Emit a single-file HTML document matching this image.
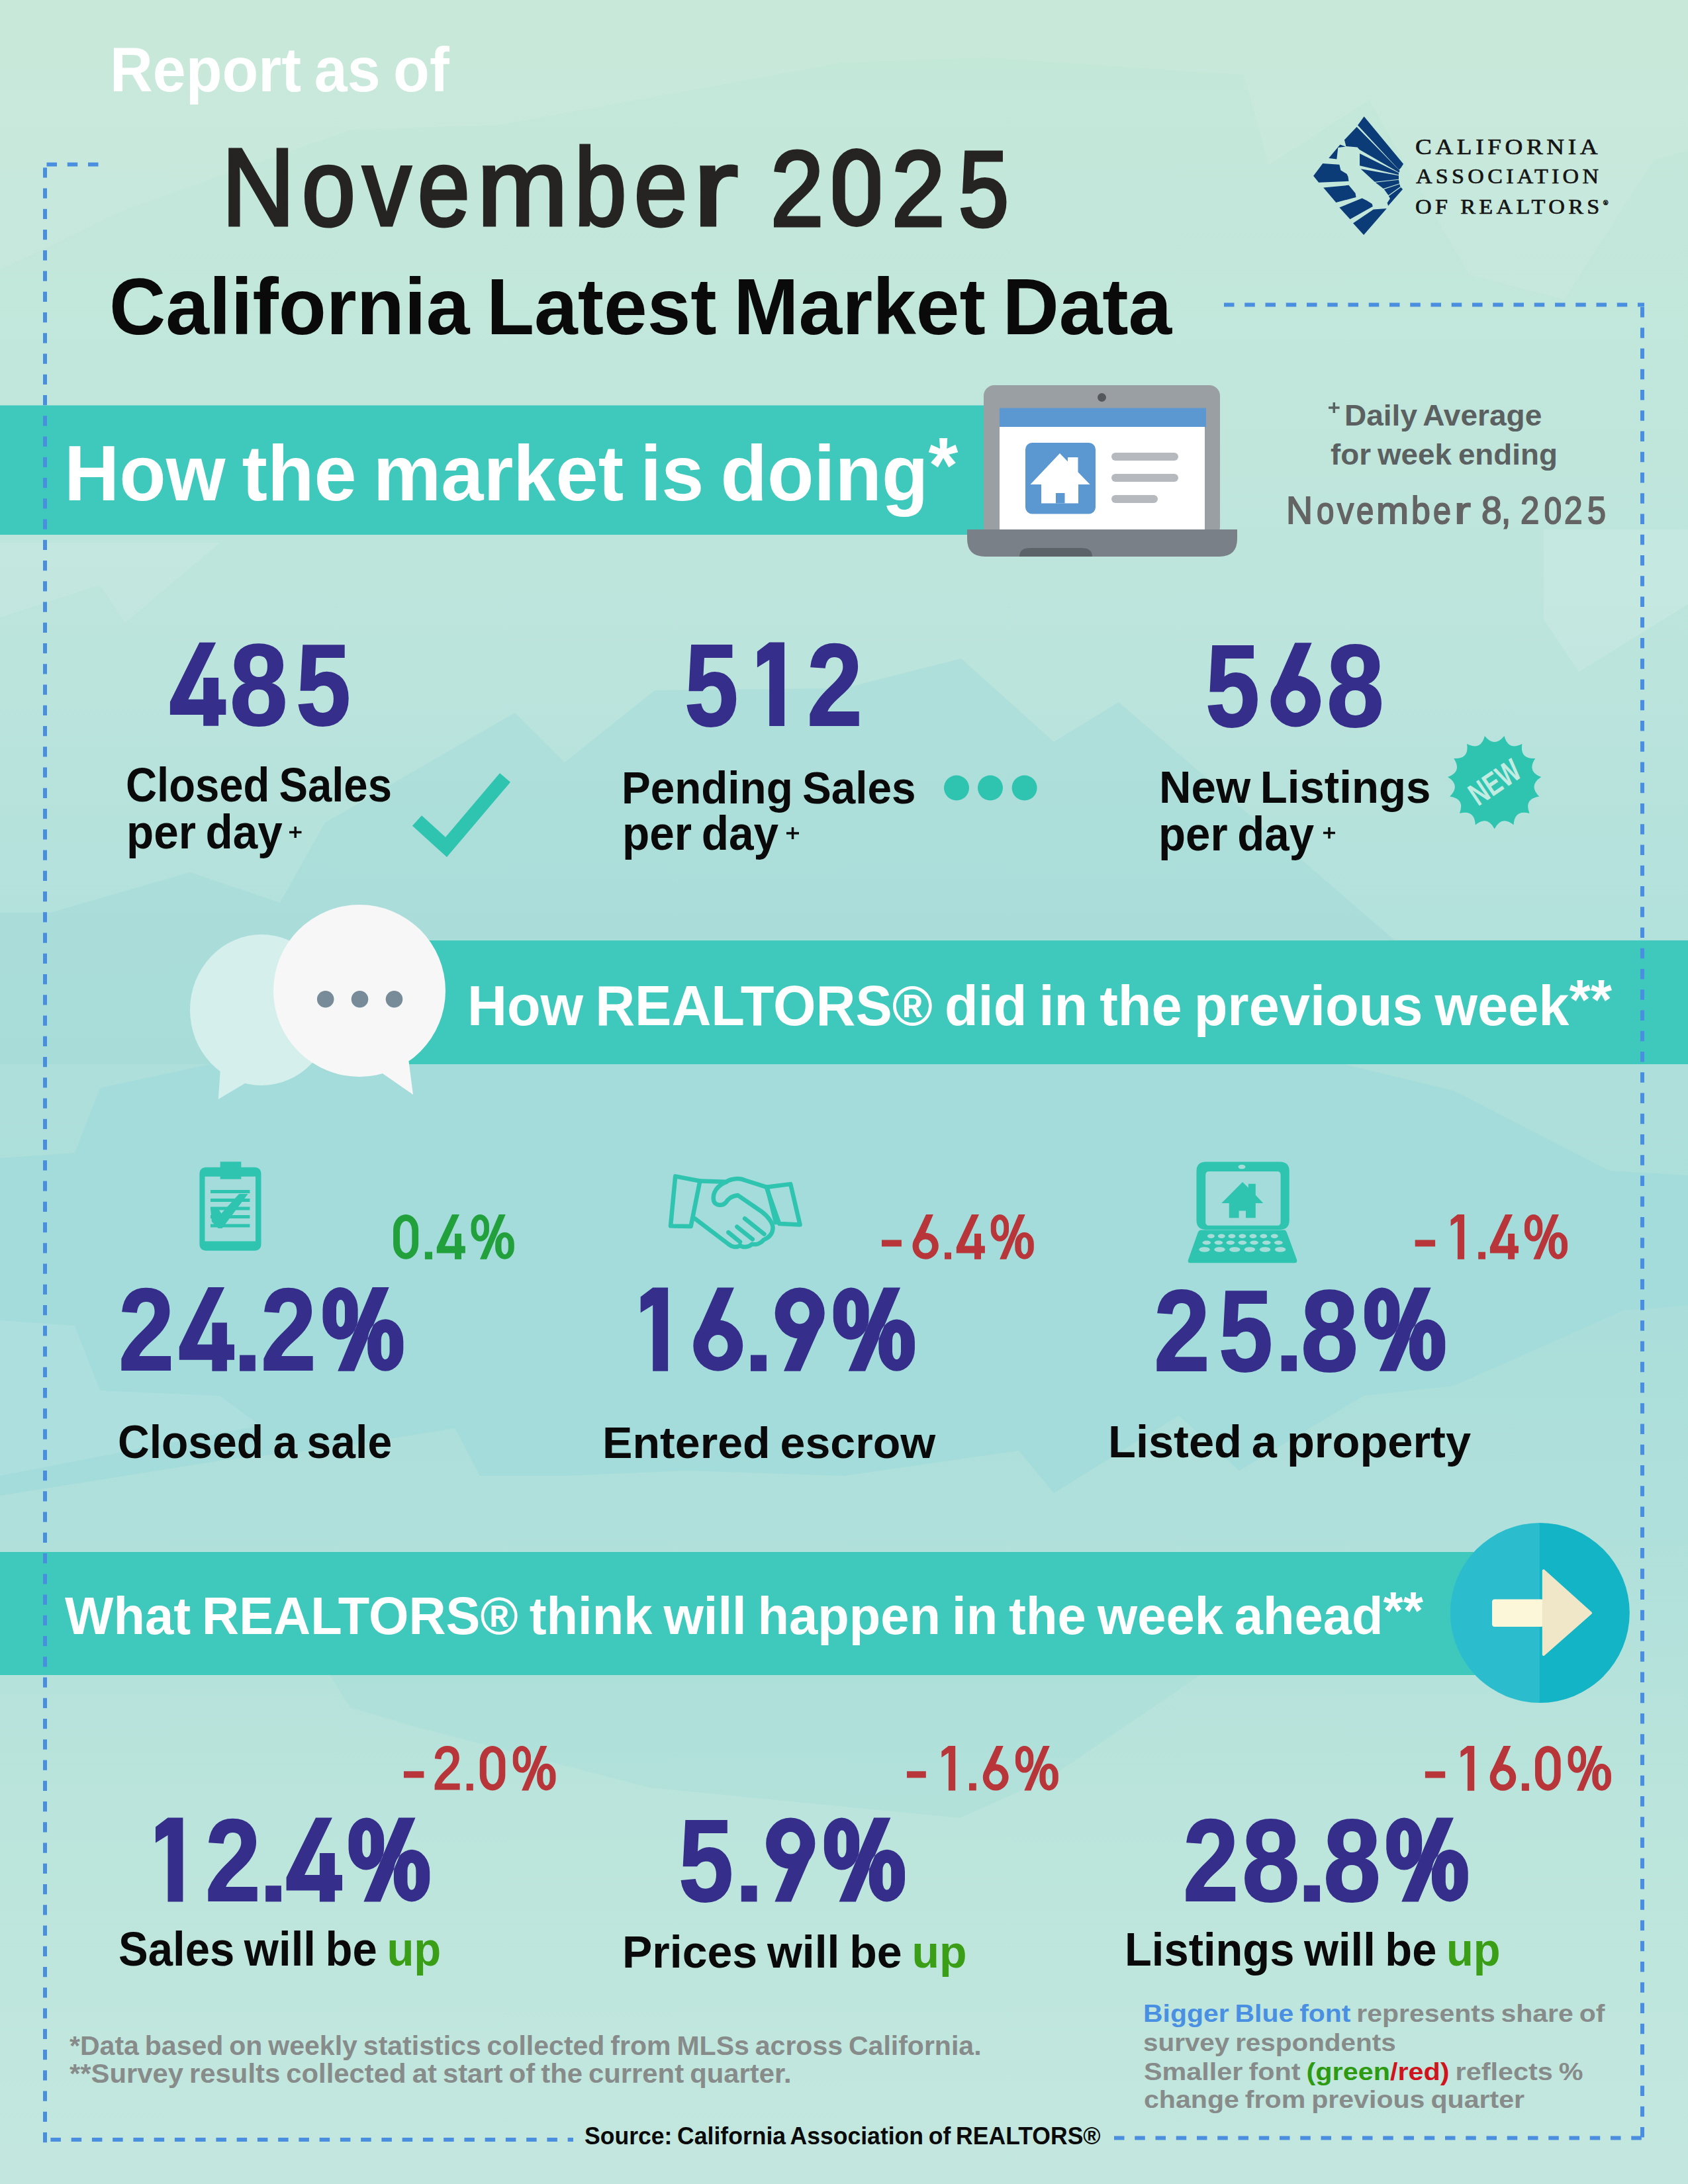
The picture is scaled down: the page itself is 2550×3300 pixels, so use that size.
<!DOCTYPE html>
<html><head><meta charset="utf-8">
<style>
html,body{margin:0;padding:0;}
body{width:2550px;height:3300px;position:relative;overflow:hidden;
background:linear-gradient(180deg,#c4e8d7 0px,#c3e7da 300px,#c0e6dc 700px,#bbe4dc 1000px,#b3e1dc 1400px,#aedfdb 1610px,#abdeda 2000px,#b0e0db 2300px,#b5e2db 2530px,#bce5dc 2800px,#c3e7de 3300px);}
.t{position:absolute;white-space:nowrap;line-height:1;transform-origin:0 0;}
svg.bg{position:absolute;left:0;top:0;}
</style></head><body>
<svg class="bg" width="2550" height="3300" viewBox="0 0 2550 3300">
<polygon fill="#ffffff" fill-opacity="0.07" points="0,0 2550,0 2550,227 2498,242 2363,453 2219,415 2068,151 1917,249 1879,113 1494,87 1275,94 755,189 529,196 189,317 0,408"/>
<polygon fill="#9bd8d6" fill-opacity="0.35" points="0,1379 76,1379 287,1318 423,1364 491,1243 778,1077 853,1152 989,1043 1275,1040 1452,995 1592,1121 1690,1061 2106,1420 2550,1420 2550,1608 0,1608"/>
<polygon fill="#ffffff" fill-opacity="0.12" points="2332,800 2550,800 2550,913 2385,1015 2332,936"/>
<polygon fill="#ffffff" fill-opacity="0.10" points="0,820 332,820 189,941 151,884 0,933"/>
<polygon fill="#a3dcda" points="0,1750 113,1742 151,1644 317,1608 2030,1608 2196,1648 2431,1769 2550,1776 2550,1973 2453,1980 2196,2094 2060,2109 1872,2222 1781,2139 1592,2256 1539,2192 1275,2230 1039,2222 853,2230 725,2230 687,2158 529,2184 332,2207 0,2260"/>
<polygon fill="#ffffff" fill-opacity="0.10" points="0,1995 113,2003 151,2101 332,2109 393,2154 0,2230"/>
<polygon fill="#9fdad8" fill-opacity="0.3" points="498,2531 529,2580 634,2611 982,2701 1450,2747 1586,2686 1813,2531"/>
<!-- Banner 1 -->
<rect x="0" y="612.5" width="1500" height="195.5" fill="#3fc9bc"/>
<!-- laptop -->
<rect x="1486" y="582" width="357" height="230" rx="16" fill="#9a9fa3"/>
<circle cx="1664.5" cy="600.5" r="6.5" fill="#55595d"/>
<rect x="1510" y="616.5" width="312" height="29" fill="#5b97d1"/>
<rect x="1510" y="645" width="310" height="156" fill="#ffffff"/>
<rect x="1549" y="669" width="106" height="107.5" rx="10" fill="#5b97d1"/>
<polygon points="1601,685 1646.6,732 1556.5,732" fill="#fff"/>
<rect x="1613" y="691" width="15.5" height="30" fill="#fff"/>
<rect x="1573" y="731" width="56" height="29.5" fill="#fff"/>
<rect x="1595" y="745" width="13.5" height="15.5" fill="#5b97d1"/>
<g stroke="#b6babe" stroke-width="12" stroke-linecap="round">
<line x1="1685" y1="690" x2="1774" y2="690"/><line x1="1685" y1="722" x2="1774" y2="722"/><line x1="1685" y1="754" x2="1743" y2="754"/>
</g>
<path d="M1461,800 H1869 V814 Q1869,841 1842,841 H1488 Q1461,841 1461,814 Z" fill="#7a8087"/>
<path d="M1540,841 Q1540,828 1556,828 H1634 Q1650,828 1650,841 Z" fill="#5d6469"/>
<!-- crosses -->
<g stroke="#5b6060" stroke-width="3.5"><line x1="2007" y1="616" x2="2023.6" y2="616"/><line x1="2015.3" y1="608" x2="2015.3" y2="624"/></g>
<g stroke="#0a0a0a" stroke-width="3.5">
<line x1="437" y1="1257.5" x2="455.5" y2="1257.5"/><line x1="446.2" y1="1249" x2="446.2" y2="1266"/>
<line x1="1188" y1="1259" x2="1207" y2="1259"/><line x1="1197.5" y1="1250" x2="1197.5" y2="1268"/>
<line x1="1999" y1="1258.5" x2="2017" y2="1258.5"/><line x1="2008" y1="1250" x2="2008" y2="1267"/>
</g>
<!-- logo -->
<svg x="1970" y="160" width="170" height="210" viewBox="0 0 1688 2085" preserveAspectRatio="none">
<g fill="#0b3c78">
<polygon points="805,290 900,160 1490,870 1455,925 1425,960"/>
<polygon points="605,510 790,315 1435,972 1425,1000 830,655 800,620 630,605"/>
<polygon points="835,715 1420,1005 1420,1035 835,895"/>
<polygon points="850,945 1420,1045 1420,1100 1060,1140"/>
<polygon points="1070,1150 1420,1110 1430,1165 1190,1240"/>
<polygon points="1200,1250 1432,1175 1445,1212 1265,1340"/>
<polygon points="1270,1352 1452,1222 1480,1250 1262,1500 1248,1455 1290,1390"/>
<polygon points="370,785 540,580 625,610 510,625 490,800"/>
<polygon points="140,1050 280,865 530,880 550,965 640,1020 660,1060 670,1130 220,1150"/>
<polygon points="290,1225 670,1190 770,1310 780,1370 480,1450"/>
<polygon points="530,1525 870,1385 940,1420 1020,1470 1030,1510 690,1700"/>
<polygon points="735,1760 1040,1555 1240,1540 895,1935"/>
</g>
</svg>
<!-- check -->
<polyline points="630,1240 674,1280 763,1175" fill="none" stroke="#2ec4b0" stroke-width="21" stroke-linejoin="miter"/>
<g fill="#2ec4b0"><circle cx="1445" cy="1190.5" r="19"/><circle cx="1496" cy="1190.5" r="19"/><circle cx="1547.6" cy="1190.5" r="19"/></g>
<path fill="#2ec4b0" d="M2257.7,1252.5 Q2247.1,1231.4 2228.8,1246.4 Q2227.7,1222.8 2204.9,1229.0 Q2213.5,1207.0 2190.2,1203.4 Q2207.0,1186.8 2187.1,1174.1 Q2209.2,1165.7 2196.2,1146.0 Q2219.8,1147.4 2216.0,1124.1 Q2237.0,1134.9 2242.9,1112.1 Q2257.7,1130.5 2272.5,1112.1 Q2278.4,1134.9 2299.4,1124.1 Q2295.6,1147.4 2319.2,1146.0 Q2306.2,1165.7 2328.3,1174.1 Q2308.4,1186.8 2325.2,1203.4 Q2301.9,1207.0 2310.5,1229.0 Q2287.7,1222.8 2286.6,1246.4 Q2268.3,1231.4 2257.7,1252.5 Z"/>
<text x="0" y="0" transform="translate(2260,1185) rotate(-34) scale(0.74,1)" text-anchor="middle" dominant-baseline="middle" font-family="Liberation Sans" font-weight="700" font-size="48" fill="#c2ebe2">NEW</text>
<!-- Banner 2 + bubbles -->
<rect x="600" y="1421" width="1950" height="187" fill="#3fc9bc"/>
<ellipse cx="395" cy="1526" rx="108" ry="114" fill="#d4efec"/>
<polygon points="329.7,1661 334,1600 390,1625" fill="#d4efec"/>
<circle cx="543" cy="1497" r="130" fill="#f7f7f7"/>
<polygon points="575,1620 624,1654 617,1600" fill="#f7f7f7"/>
<g fill="#778b98"><circle cx="491.7" cy="1509.8" r="12.8"/><circle cx="543.5" cy="1509.8" r="12.8"/><circle cx="595.5" cy="1509.8" r="12.8"/></g>
<!-- clipboard -->
<path fill="#2ec4b0" fill-rule="evenodd" d="M312,1763.8 H384 Q394.5,1763.8 394.5,1774.5 V1879 Q394.5,1889.7 384,1889.7 H312 Q301.4,1889.7 301.4,1879 V1774.5 Q301.4,1763.8 312,1763.8 Z M309.5,1777.7 V1875.4 H386 V1777.7 Z"/>
<rect x="332.7" y="1755.3" width="31.6" height="26.3" fill="#2ec4b0"/>
<g stroke="#2ec4b0" stroke-width="5"><line x1="318" y1="1800.4" x2="377.4" y2="1800.4"/><line x1="318" y1="1813.6" x2="377.4" y2="1813.6"/><line x1="318" y1="1826" x2="377.4" y2="1826"/><line x1="318" y1="1838.5" x2="377.4" y2="1838.5"/><line x1="318" y1="1852" x2="377.4" y2="1852"/></g>
<polygon fill="#2ec4b0" points="318.1,1826.8 329.8,1826.8 334.4,1833.5 361.1,1804 374.6,1804 335.5,1855.9 329.8,1855.9 319.9,1846"/>
<!-- handshake -->
<svg x="1000" y="1765" width="220" height="130" viewBox="0 0 1688 997" preserveAspectRatio="none">
<g fill="none" stroke="#2ec4b0" stroke-width="50" stroke-linejoin="round" stroke-linecap="round">
<path d="M155,95 L440,150 L335,675 L100,670 Z"/>
<path d="M1210,220 L1490,185 L1600,655 L1360,645 Z"/>
<path d="M440,150 L745,160 C800,120 900,110 960,140 L1210,220"/>
<path d="M745,160 C640,200 580,290 600,380 C620,440 700,440 740,400 C770,350 800,330 880,315 L1150,500 C1230,560 1290,640 1285,700 C1280,770 1230,810 1180,830 C1150,870 1090,895 1045,880 C1010,915 940,925 905,895 C870,925 810,915 770,880 L375,580"/>
<path d="M1220,230 L1320,630"/>
<path d="M960,585 L1185,765"/>
<path d="M870,680 L1050,825"/>
<path d="M770,745 L905,855"/>
</g>
</svg>
<!-- laptop icon -->
<svg x="1785" y="1745" width="185" height="170" viewBox="0 0 1688 1551" preserveAspectRatio="none">
<path fill="#2ec4b0" fill-rule="evenodd" d="M335,95 H1355 Q1485,95 1485,225 V900 Q1485,1030 1355,1030 H335 Q205,1030 205,900 V225 Q205,95 335,95 Z M380,228 Q330,228 330,278 V925 Q330,975 380,975 H1315 Q1365,975 1365,925 V278 Q1365,228 1315,228 Z"/>
<ellipse cx="830" cy="165" rx="50" ry="30" fill="#a6ddd9"/>
<path fill="#2ec4b0" d="M550,665 L840,375 L920,455 L920,400 L1020,400 L1020,555 L1125,665 L1020,665 L1020,870 L885,870 L885,770 L790,770 L790,870 L655,870 L655,665 Z"/>
<path fill="#2ec4b0" d="M260,1035 L1420,1035 Q1440,1040 1450,1070 L1590,1450 Q1595,1490 1560,1490 L120,1490 Q80,1490 90,1450 L225,1070 Q235,1040 260,1035 Z"/>
<g fill="#a6ddd9">
<ellipse cx="405" cy="1120" rx="50" ry="30"/><ellipse cx="550" cy="1120" rx="50" ry="30"/><ellipse cx="693" cy="1120" rx="50" ry="30"/><ellipse cx="838" cy="1120" rx="50" ry="30"/><ellipse cx="985" cy="1120" rx="50" ry="30"/><ellipse cx="1130" cy="1120" rx="50" ry="30"/><ellipse cx="1280" cy="1120" rx="50" ry="30"/>
<ellipse cx="345" cy="1210" rx="58" ry="28"/><ellipse cx="510" cy="1210" rx="58" ry="28"/><ellipse cx="673" cy="1210" rx="58" ry="28"/><ellipse cx="838" cy="1210" rx="58" ry="28"/><ellipse cx="1000" cy="1210" rx="58" ry="28"/><ellipse cx="1170" cy="1210" rx="58" ry="28"/><ellipse cx="1335" cy="1210" rx="58" ry="28"/>
<ellipse cx="315" cy="1305" rx="75" ry="35"/><ellipse cx="525" cy="1305" rx="75" ry="35"/><ellipse cx="733" cy="1305" rx="75" ry="35"/><ellipse cx="940" cy="1305" rx="75" ry="35"/><ellipse cx="1150" cy="1305" rx="75" ry="35"/><ellipse cx="1360" cy="1305" rx="75" ry="35"/>
</g>
</svg>
<!-- Banner 3 + arrow circle -->
<rect x="0" y="2345" width="2260" height="186" fill="#3fc9bc"/>
<path d="M2326.8,2301 A136,136 0 0 0 2326.8,2573 Z" fill="#2bbdcd"/>
<path d="M2325.8,2301 A136,136 0 0 1 2325.8,2573 Z" fill="#12b4c6"/>
<rect x="2254" y="2416.4" width="78" height="41.6" rx="4" fill="#fdf7d9"/>
<polygon points="2331.8,2373.3 2331.8,2500 2403,2437.2" fill="#efe7c7" stroke="#efe7c7" stroke-width="4" stroke-linejoin="round"/>
<!-- dashed border -->
<g stroke="#4a8ee0" stroke-width="6" fill="none">
<line x1="70.5" y1="248.5" x2="152" y2="248.5" stroke-dasharray="15.5 15.75"/>
<line x1="68" y1="253.3" x2="68" y2="3238" stroke-dasharray="15.25 16"/>
<line x1="1849" y1="460.5" x2="2484" y2="460.5" stroke-dasharray="15.5 15.75"/>
<line x1="2481" y1="464" x2="2481" y2="3233" stroke-dasharray="15.5 15.75"/>
<line x1="76.4" y1="3233" x2="866" y2="3233" stroke-dasharray="15.5 15.75"/>
<line x1="1683" y1="3230.5" x2="2484" y2="3230.5" stroke-dasharray="15.5 15.75"/>
</g>
</svg>
<div class="t" style="left:165.8px;top:58.0px;font-family:'Liberation Sans',sans-serif;font-weight:700;word-spacing:-0.06em;font-size:94.62px;color:#ffffff;transform:scaleX(0.9486)">Report as of</div>
<div class="t" style="left:335.2px;top:200.3px;font-family:'Liberation Sans',sans-serif;font-weight:400;font-size:165.7px;-webkit-text-stroke:5px #262423;color:#262423;transform:scaleX(0.9214)">N</div>
<div class="t" style="left:456.0px;top:200.3px;font-family:'Liberation Sans',sans-serif;font-weight:400;font-size:165.7px;-webkit-text-stroke:5px #262423;color:#262423;transform:scaleX(0.8774)">o</div>
<div class="t" style="left:548.1px;top:200.3px;font-family:'Liberation Sans',sans-serif;font-weight:400;font-size:165.7px;-webkit-text-stroke:5px #262423;color:#262423;transform:scaleX(0.8775)">v</div>
<div class="t" style="left:631.0px;top:200.3px;font-family:'Liberation Sans',sans-serif;font-weight:400;font-size:165.7px;-webkit-text-stroke:5px #262423;color:#262423;transform:scaleX(0.8530)">e</div>
<div class="t" style="left:721.1px;top:200.3px;font-family:'Liberation Sans',sans-serif;font-weight:400;font-size:165.7px;-webkit-text-stroke:5px #262423;color:#262423;transform:scaleX(0.9902)">m</div>
<div class="t" style="left:868.2px;top:200.3px;font-family:'Liberation Sans',sans-serif;font-weight:400;font-size:165.7px;-webkit-text-stroke:5px #262423;color:#262423;transform:scaleX(0.8500)">b</div>
<div class="t" style="left:958.3px;top:200.3px;font-family:'Liberation Sans',sans-serif;font-weight:400;font-size:165.7px;-webkit-text-stroke:5px #262423;color:#262423;transform:scaleX(0.8699)">e</div>
<div class="t" style="left:1047.4px;top:200.3px;font-family:'Liberation Sans',sans-serif;font-weight:400;font-size:165.7px;-webkit-text-stroke:5px #262423;color:#262423;transform:scaleX(1.2298)">r</div>
<div class="t" style="left:1163.8px;top:204.5px;font-family:'Liberation Sans',sans-serif;font-weight:400;font-size:160.73px;-webkit-text-stroke:5px #262423;color:#262423;transform:scaleX(0.8987)">2</div>
<div class="t" style="left:1346.6px;top:204.5px;font-family:'Liberation Sans',sans-serif;font-weight:400;font-size:160.73px;-webkit-text-stroke:5px #262423;color:#262423;transform:scaleX(0.9000)">2</div>
<div class="t" style="left:1447.7px;top:204.5px;font-family:'Liberation Sans',sans-serif;font-weight:400;font-size:160.73px;-webkit-text-stroke:5px #262423;color:#262423;transform:scaleX(0.8506)">5</div>
<div class="t" style="left:165.1px;top:402.7px;font-family:'Liberation Sans',sans-serif;font-weight:700;word-spacing:-0.06em;font-size:120.17px;color:#0a0a0a;transform:scaleX(0.9822)">California Latest Market Data</div>
<div class="t" style="left:96.8px;top:656.2px;font-family:'Liberation Sans',sans-serif;font-weight:700;word-spacing:-0.06em;font-size:118.68px;color:#ffffff;transform:scaleX(0.9720)">How the market is doing<span style="position:relative;top:-0.1em">*</span></div>
<div class="t" style="left:2030.6px;top:605.7px;font-family:'Liberation Sans',sans-serif;font-weight:700;word-spacing:-0.06em;font-size:44.88px;color:#5b6060;transform:scaleX(1.0255)">Daily Average</div>
<div class="t" style="left:2010.0px;top:664.7px;font-family:'Liberation Sans',sans-serif;font-weight:700;word-spacing:-0.06em;font-size:44.61px;color:#5b6060;transform:scaleX(1.0258)">for week ending</div>
<div class="t" style="left:1942.9px;top:742.3px;font-family:'Liberation Sans',sans-serif;font-weight:400;font-size:58.28px;-webkit-text-stroke:2px #646464;color:#646464;transform:scaleX(0.9500)">N</div>
<div class="t" style="left:1989.0px;top:742.3px;font-family:'Liberation Sans',sans-serif;font-weight:400;font-size:58.28px;-webkit-text-stroke:2px #646464;color:#646464;transform:scaleX(0.8138)">o</div>
<div class="t" style="left:2019.8px;top:742.3px;font-family:'Liberation Sans',sans-serif;font-weight:400;font-size:58.28px;-webkit-text-stroke:2px #646464;color:#646464;transform:scaleX(0.8613)">v</div>
<div class="t" style="left:2048.7px;top:742.3px;font-family:'Liberation Sans',sans-serif;font-weight:400;font-size:58.28px;-webkit-text-stroke:2px #646464;color:#646464;transform:scaleX(0.8103)">e</div>
<div class="t" style="left:2079.3px;top:742.3px;font-family:'Liberation Sans',sans-serif;font-weight:400;font-size:58.28px;-webkit-text-stroke:2px #646464;color:#646464;transform:scaleX(1.0093)">m</div>
<div class="t" style="left:2131.7px;top:742.3px;font-family:'Liberation Sans',sans-serif;font-weight:400;font-size:58.28px;-webkit-text-stroke:2px #646464;color:#646464;transform:scaleX(0.8857)">b</div>
<div class="t" style="left:2164.8px;top:742.3px;font-family:'Liberation Sans',sans-serif;font-weight:400;font-size:58.28px;-webkit-text-stroke:2px #646464;color:#646464;transform:scaleX(0.8310)">e</div>
<div class="t" style="left:2196.6px;top:742.3px;font-family:'Liberation Sans',sans-serif;font-weight:400;font-size:58.28px;-webkit-text-stroke:2px #646464;color:#646464;transform:scaleX(1.2750)">r</div>
<div class="t" style="left:2237.7px;top:743.8px;font-family:'Liberation Sans',sans-serif;font-weight:400;font-size:56.54px;-webkit-text-stroke:2px #646464;color:#646464;transform:scaleX(0.9750)">8</div>
<div class="t" style="left:2267.5px;top:742.3px;font-family:'Liberation Sans',sans-serif;font-weight:400;font-size:58.28px;-webkit-text-stroke:2px #646464;color:#646464;transform:scaleX(0.8750)">,</div>
<div class="t" style="left:2296.5px;top:743.8px;font-family:'Liberation Sans',sans-serif;font-weight:400;font-size:56.54px;-webkit-text-stroke:2px #646464;color:#646464;transform:scaleX(0.9000)">2</div>
<div class="t" style="left:2362.6px;top:743.8px;font-family:'Liberation Sans',sans-serif;font-weight:400;font-size:56.54px;-webkit-text-stroke:2px #646464;color:#646464;transform:scaleX(0.8750)">2</div>
<div class="t" style="left:2397.9px;top:743.8px;font-family:'Liberation Sans',sans-serif;font-weight:400;font-size:56.54px;-webkit-text-stroke:2px #646464;color:#646464;transform:scaleX(0.8897)">5</div>
<div class="t" style="left:2137.9px;top:206.2px;font-family:'Liberation Serif',serif;font-weight:400;font-size:32.82px;letter-spacing:5px;-webkit-text-stroke:0.7px #151515;color:#151515;transform:scaleX(1.1309)">CALIFORNIA</div>
<div class="t" style="left:2139.0px;top:250.9px;font-family:'Liberation Serif',serif;font-weight:400;font-size:31.91px;letter-spacing:5px;-webkit-text-stroke:0.7px #151515;color:#151515;transform:scaleX(1.0649)">ASSOCIATION</div>
<div class="t" style="left:2137.9px;top:295.5px;font-family:'Liberation Serif',serif;font-weight:400;font-size:32.06px;letter-spacing:5px;-webkit-text-stroke:0.7px #151515;color:#151515;transform:scaleX(1.0662)">OF REALTORS<span style="font-size:0.3em;vertical-align:13px;letter-spacing:0">&reg;</span></div>
<div class="t" style="left:346.5px;top:947.8px;font-family:'Liberation Sans',sans-serif;font-weight:700;font-size:174.97px;-webkit-text-stroke:2px #352e8a;color:#352e8a;transform:scaleX(0.9000)">8</div>
<div class="t" style="left:447.2px;top:947.8px;font-family:'Liberation Sans',sans-serif;font-weight:700;font-size:174.97px;-webkit-text-stroke:2px #352e8a;color:#352e8a;transform:scaleX(0.8528)">5</div>
<div class="t" style="left:1033.6px;top:947.5px;font-family:'Liberation Sans',sans-serif;font-weight:700;font-size:175.53px;-webkit-text-stroke:2px #352e8a;color:#352e8a;transform:scaleX(0.8344)">5</div>
<div class="t" style="left:1218.7px;top:947.5px;font-family:'Liberation Sans',sans-serif;font-weight:700;font-size:175.53px;-webkit-text-stroke:2px #352e8a;color:#352e8a;transform:scaleX(0.8598)">2</div>
<div class="t" style="left:1820.7px;top:948.2px;font-family:'Liberation Sans',sans-serif;font-weight:700;font-size:176.52px;-webkit-text-stroke:2px #352e8a;color:#352e8a;transform:scaleX(0.8356)">5</div>
<div class="t" style="left:2003.9px;top:948.2px;font-family:'Liberation Sans',sans-serif;font-weight:700;font-size:176.52px;-webkit-text-stroke:2px #352e8a;color:#352e8a;transform:scaleX(0.8843)">8</div>
<div class="t" style="left:190.2px;top:1151.0px;font-family:'Liberation Sans',sans-serif;font-weight:700;word-spacing:-0.06em;font-size:71.51px;color:#0a0a0a;transform:scaleX(0.9117)">Closed Sales</div>
<div class="t" style="left:190.7px;top:1221.8px;font-family:'Liberation Sans',sans-serif;font-weight:700;word-spacing:-0.06em;font-size:71.64px;color:#0a0a0a;transform:scaleX(0.9412)">per day</div>
<div class="t" style="left:939.3px;top:1156.1px;font-family:'Liberation Sans',sans-serif;font-weight:700;word-spacing:-0.06em;font-size:69.21px;color:#0a0a0a;transform:scaleX(0.9479)">Pending Sales</div>
<div class="t" style="left:940.3px;top:1224.4px;font-family:'Liberation Sans',sans-serif;font-weight:700;word-spacing:-0.06em;font-size:71.64px;color:#0a0a0a;transform:scaleX(0.9429)">per day</div>
<div class="t" style="left:1751.1px;top:1155.7px;font-family:'Liberation Sans',sans-serif;font-weight:700;word-spacing:-0.06em;font-size:68.53px;color:#0a0a0a;transform:scaleX(0.9806)">New Listings</div>
<div class="t" style="left:1750.3px;top:1225.4px;font-family:'Liberation Sans',sans-serif;font-weight:700;word-spacing:-0.06em;font-size:71.64px;color:#0a0a0a;transform:scaleX(0.9388)">per day</div>
<div class="t" style="left:706.0px;top:1476.5px;font-family:'Liberation Sans',sans-serif;font-weight:700;word-spacing:-0.06em;font-size:85.84px;color:#ffffff;transform:scaleX(0.9665)">How REALTORS&reg; did in the previous week<span style="position:relative;top:-0.1em">**</span></div>
<div class="t" style="left:178.5px;top:1922.0px;font-family:'Liberation Sans',sans-serif;font-weight:700;font-size:175.81px;-webkit-text-stroke:2px #352e8a;color:#352e8a;transform:scaleX(0.8609)">2</div>
<div class="t" style="left:394.1px;top:1922.0px;font-family:'Liberation Sans',sans-serif;font-weight:700;font-size:175.81px;-webkit-text-stroke:2px #352e8a;color:#352e8a;transform:scaleX(0.8575)">2</div>
<div class="t" style="left:178.1px;top:2143.9px;font-family:'Liberation Sans',sans-serif;font-weight:700;word-spacing:-0.06em;font-size:70.16px;color:#0a0a0a;transform:scaleX(0.9411)">Closed a sale</div>
<div class="t" style="left:909.9px;top:2146.7px;font-family:'Liberation Sans',sans-serif;font-weight:700;word-spacing:-0.06em;font-size:66.37px;color:#0a0a0a;transform:scaleX(1.0267)">Entered escrow</div>
<div class="t" style="left:1742.5px;top:1922.5px;font-family:'Liberation Sans',sans-serif;font-weight:700;font-size:175.25px;-webkit-text-stroke:2px #352e8a;color:#352e8a;transform:scaleX(0.8709)">2</div>
<div class="t" style="left:1841.1px;top:1922.5px;font-family:'Liberation Sans',sans-serif;font-weight:700;font-size:175.25px;-webkit-text-stroke:2px #352e8a;color:#352e8a;transform:scaleX(0.8411)">5</div>
<div class="t" style="left:1965.3px;top:1922.5px;font-family:'Liberation Sans',sans-serif;font-weight:700;font-size:175.25px;-webkit-text-stroke:2px #352e8a;color:#352e8a;transform:scaleX(0.8920)">8</div>
<div class="t" style="left:1674.0px;top:2144.2px;font-family:'Liberation Sans',sans-serif;font-weight:700;word-spacing:-0.06em;font-size:69.21px;color:#0a0a0a;transform:scaleX(0.9909)">Listed a property</div>
<div class="t" style="left:98.0px;top:2400.9px;font-family:'Liberation Sans',sans-serif;font-weight:700;word-spacing:-0.06em;font-size:80.16px;color:#ffffff;transform:scaleX(0.9701)">What REALTORS&reg; think will happen in the week ahead<span style="position:relative;top:-0.1em">**</span></div>
<div class="t" style="left:654.4px;top:2627.1px;font-family:'Liberation Sans',sans-serif;font-weight:400;font-size:90.8px;-webkit-text-stroke:3px #b8363a;color:#b8363a;transform:scaleX(0.8568)">2</div>
<div class="t" style="left:309.7px;top:2723.3px;font-family:'Liberation Sans',sans-serif;font-weight:700;font-size:176.24px;-webkit-text-stroke:2px #352e8a;color:#352e8a;transform:scaleX(0.8552)">2</div>
<div class="t" style="left:178.9px;top:2908.8px;font-family:'Liberation Sans',sans-serif;font-weight:700;word-spacing:-0.06em;font-size:72.86px;color:#0a0a0a;transform:scaleX(0.9204)">Sales will be <span style="color:#3a9e16">up</span></div>
<div class="t" style="left:1025.1px;top:2723.3px;font-family:'Liberation Sans',sans-serif;font-weight:700;font-size:176.24px;-webkit-text-stroke:2px #352e8a;color:#352e8a;transform:scaleX(0.8478)">5</div>
<div class="t" style="left:940.0px;top:2915.4px;font-family:'Liberation Sans',sans-serif;font-weight:700;word-spacing:-0.06em;font-size:68.4px;color:#0a0a0a;transform:scaleX(0.9940)">Prices will be <span style="color:#3a9e16">up</span></div>
<div class="t" style="left:1786.7px;top:2723.3px;font-family:'Liberation Sans',sans-serif;font-weight:700;font-size:176.24px;-webkit-text-stroke:2px #352e8a;color:#352e8a;transform:scaleX(0.8609)">2</div>
<div class="t" style="left:1875.9px;top:2723.3px;font-family:'Liberation Sans',sans-serif;font-weight:700;font-size:176.24px;-webkit-text-stroke:2px #352e8a;color:#352e8a;transform:scaleX(0.8933)">8</div>
<div class="t" style="left:1999.4px;top:2723.3px;font-family:'Liberation Sans',sans-serif;font-weight:700;font-size:176.24px;-webkit-text-stroke:2px #352e8a;color:#352e8a;transform:scaleX(0.8876)">8</div>
<div class="t" style="left:1699.2px;top:2910.5px;font-family:'Liberation Sans',sans-serif;font-weight:700;word-spacing:-0.06em;font-size:70.29px;color:#0a0a0a;transform:scaleX(0.9516)">Listings will be <span style="color:#3a9e16">up</span></div>
<div class="t" style="left:105.2px;top:3070.1px;font-family:'Liberation Sans',sans-serif;font-weight:700;word-spacing:-0.06em;font-size:41.5px;color:#878b8a;transform:scaleX(0.9884)">*Data based on weekly statistics collected from MLSs across California.</div>
<div class="t" style="left:105.0px;top:3112.4px;font-family:'Liberation Sans',sans-serif;font-weight:700;word-spacing:-0.06em;font-size:41.5px;color:#878b8a;transform:scaleX(1.0074)">**Survey results collected at start of the current quarter.</div>
<div class="t" style="left:882.7px;top:3210.1px;font-family:'Liberation Sans',sans-serif;font-weight:700;word-spacing:-0.06em;font-size:36.5px;color:#0a0a0a;transform:scaleX(0.9741)">Source: California Association of REALTORS&reg;</div>
<div class="t" style="left:1727.1px;top:3024.0px;font-family:'Liberation Sans',sans-serif;font-weight:700;word-spacing:-0.06em;font-size:37.85px;color:#878b8a;transform:scaleX(1.0820)"><span style="color:#4a90e2">Bigger Blue font</span> represents share of</div>
<div class="t" style="left:1727.2px;top:3067.7px;font-family:'Liberation Sans',sans-serif;font-weight:700;word-spacing:-0.06em;font-size:37.85px;color:#878b8a;transform:scaleX(1.0684)">survey respondents</div>
<div class="t" style="left:1728.2px;top:3112.9px;font-family:'Liberation Sans',sans-serif;font-weight:700;word-spacing:-0.06em;font-size:36.5px;color:#878b8a;transform:scaleX(1.1330)">Smaller font <span style="color:#2e9a12">(green</span><span style="color:#d0141e">/red)</span> reflects %</div>
<div class="t" style="left:1728.2px;top:3153.7px;font-family:'Liberation Sans',sans-serif;font-weight:700;word-spacing:-0.06em;font-size:37.85px;color:#878b8a;transform:scaleX(1.0866)">change from previous quarter</div>
<svg style="position:absolute;left:0;top:0" width="2550" height="3300"><path fill-rule="evenodd" fill="#262423" d="M1293.9,224.0 H1293.9 A35.8,43.0 0 0 1 1329.7,267.0 V300.0 A35.8,43.0 0 0 1 1293.9,343.0 H1293.9 A35.8,43.0 0 0 1 1258.1,300.0 V267.0 A35.8,43.0 0 0 1 1293.9,224.0 Z M1294.1,241.4 H1294.1 A17.4,26.0 0 0 1 1311.4,267.4 V300.5 A17.4,26.0 0 0 1 1294.1,326.6 H1294.1 A17.4,26.0 0 0 1 1276.7,300.5 V267.4 A17.4,26.0 0 0 1 1294.1,241.4 Z "/><path fill-rule="evenodd" fill="#646464" d="M2345.9,750.5 H2345.9 A12.1,14.5 0 0 1 2358.0,765.0 V778.1 A12.1,14.5 0 0 1 2345.9,792.6 H2345.9 A12.1,14.5 0 0 1 2333.8,778.1 V765.0 A12.1,14.5 0 0 1 2345.9,750.5 Z M2346.0,756.6 H2346.0 A5.9,8.8 0 0 1 2351.8,765.4 V778.0 A5.9,8.8 0 0 1 2346.0,786.8 H2346.0 A5.9,8.8 0 0 1 2340.1,778.0 V765.4 A5.9,8.8 0 0 1 2346.0,756.6 Z "/><polygon fill="#352e8a" points="301.3,970.7 326.2,970.7 284.4,1056.8 307.2,1056.8 307.2,1024.0 330.1,1024.0 330.1,1056.8 341.3,1056.8 341.3,1079.9 330.1,1079.9 330.1,1096.8 307.2,1096.8 307.2,1079.9 256.9,1079.9 256.9,1060.4"/><path fill="#352e8a" d="M1162.2,970.5 H1185.0 V1097.0 H1162.2 V996.9 L1143.9,1008.6 V984.4 Z"/><path fill-rule="evenodd" fill="#352e8a" d="M1957.2,1020.8 H1957.2 A37.8,38.9 0 0 1 1995.1,1059.6 V1059.6 A37.8,38.9 0 0 1 1957.2,1098.5 H1957.2 A37.8,38.9 0 0 1 1919.4,1059.6 V1059.6 A37.8,38.9 0 0 1 1957.2,1020.8 Z M1957.2,1043.2 H1957.2 A14.8,16.9 0 0 1 1972.0,1060.1 V1060.1 A14.8,16.9 0 0 1 1957.2,1077.0 H1957.2 A14.8,16.9 0 0 1 1942.5,1060.1 V1060.1 A14.8,16.9 0 0 1 1957.2,1043.2 Z "/><polygon fill="#352e8a" points="1956.3,971.3 1981.6,971.3 1958.8,1026.0 1921.7,1050.2"/><path fill-rule="evenodd" fill="#22a03c" d="M613.1,1835.0 H613.1 A19.0,22.8 0 0 1 632.1,1857.8 V1880.0 A19.0,22.8 0 0 1 613.1,1902.8 H613.1 A19.0,22.8 0 0 1 594.1,1880.0 V1857.8 A19.0,22.8 0 0 1 613.1,1835.0 Z M613.2,1844.9 H613.2 A9.2,13.8 0 0 1 622.4,1858.7 V1879.6 A9.2,13.8 0 0 1 613.2,1893.4 H613.2 A9.2,13.8 0 0 1 604.0,1879.6 V1858.7 A9.2,13.8 0 0 1 613.2,1844.9 Z "/><rect fill="#22a03c" x="641.9" y="1891.5" width="11.1" height="11.3"/><polygon fill="#22a03c" points="682.9,1835.0 694.0,1835.0 672.1,1882.7 687.0,1882.7 687.0,1864.1 697.0,1864.1 697.0,1882.7 702.9,1882.7 702.9,1893.5 697.0,1893.5 697.0,1902.8 687.0,1902.8 687.0,1893.5 659.8,1893.5 659.8,1884.5"/><path fill-rule="evenodd" fill="#22a03c" d="M725.3,1835.0 H725.3 A13.7,16.9 0 0 1 738.9,1851.9 V1858.9 A13.7,16.9 0 0 1 725.3,1875.8 H725.3 A13.7,16.9 0 0 1 711.6,1858.9 V1851.9 A13.7,16.9 0 0 1 725.3,1835.0 Z M725.4,1842.9 H725.4 A5.8,10.4 0 0 1 731.2,1853.3 V1857.4 A5.8,10.4 0 0 1 725.4,1867.8 H725.4 A5.8,10.4 0 0 1 719.6,1857.4 V1853.3 A5.8,10.4 0 0 1 725.4,1842.9 Z M762.5,1862.0 H762.5 A14.3,17.7 0 0 1 776.8,1879.7 V1885.1 A14.3,17.7 0 0 1 762.5,1902.8 H762.5 A14.3,17.7 0 0 1 748.2,1885.1 V1879.7 A14.3,17.7 0 0 1 762.5,1862.0 Z M762.7,1869.6 H762.7 A5.2,9.3 0 0 1 767.9,1879.0 V1885.9 A5.2,9.3 0 0 1 762.7,1895.3 H762.7 A5.2,9.3 0 0 1 757.5,1885.9 V1879.0 A5.2,9.3 0 0 1 762.7,1869.6 Z M753.7,1835.0 L763.7,1835.0 L735.1,1902.8 L725.0,1902.8 Z"/><polygon fill="#352e8a" points="314.6,1945.0 339.1,1945.0 297.9,2031.5 320.4,2031.5 320.4,1998.6 342.9,1998.6 342.9,2031.5 354.0,2031.5 354.0,2054.7 342.9,2054.7 342.9,2071.7 320.4,2071.7 320.4,2054.7 270.8,2054.7 270.8,2035.1"/><rect fill="#352e8a" x="362.1" y="2047.5" width="23.7" height="24.2"/><path fill-rule="evenodd" fill="#352e8a" d="M514.1,1945.0 H514.1 A26.6,32.9 0 0 1 540.6,1977.9 V1991.1 A26.6,32.9 0 0 1 514.1,2024.1 H514.1 A26.6,32.9 0 0 1 487.5,1991.1 V1977.9 A26.6,32.9 0 0 1 514.1,1945.0 Z M514.5,1964.0 H514.5 A6.5,11.7 0 0 1 521.0,1975.7 V1993.2 A6.5,11.7 0 0 1 514.5,2004.9 H514.5 A6.5,11.7 0 0 1 508.0,1993.2 V1975.7 A6.5,11.7 0 0 1 514.5,1964.0 Z M582.3,1993.3 H582.3 A27.0,33.5 0 0 1 609.3,2026.7 V2038.2 A27.0,33.5 0 0 1 582.3,2071.7 H582.3 A27.0,33.5 0 0 1 555.3,2038.2 V2026.7 A27.0,33.5 0 0 1 582.3,1993.3 Z M582.2,2013.2 H582.2 A6.4,11.5 0 0 1 588.6,2024.7 V2042.5 A6.4,11.5 0 0 1 582.2,2054.0 H582.2 A6.4,11.5 0 0 1 575.8,2042.5 V2024.7 A6.4,11.5 0 0 1 582.2,2013.2 Z M562.7,1945.0 L587.7,1945.0 L535.2,2071.7 L510.2,2071.7 Z"/><rect fill="#b8363a" x="1332.0" y="1873.5" width="29.9" height="10.0"/><path fill-rule="evenodd" fill="#b8363a" d="M1398.2,1862.8 H1398.2 A19.6,20.0 0 0 1 1417.8,1882.7 V1882.7 A19.6,20.0 0 0 1 1398.2,1902.7 H1398.2 A19.6,20.0 0 0 1 1378.5,1882.7 V1882.7 A19.6,20.0 0 0 1 1398.2,1862.8 Z M1398.1,1872.5 H1398.1 A10.0,10.5 0 0 1 1408.1,1883.0 V1883.0 A10.0,10.5 0 0 1 1398.1,1893.6 H1398.1 A10.0,10.5 0 0 1 1388.0,1883.0 V1883.0 A10.0,10.5 0 0 1 1398.1,1872.5 Z "/><polygon fill="#b8363a" points="1399.0,1835.0 1409.9,1835.0 1397.0,1865.5 1379.3,1877.0"/><rect fill="#b8363a" x="1427.0" y="1892.5" width="10.0" height="10.2"/><polygon fill="#b8363a" points="1467.9,1835.0 1479.0,1835.0 1457.1,1882.6 1472.0,1882.6 1472.0,1864.0 1482.0,1864.0 1482.0,1882.6 1487.9,1882.6 1487.9,1893.4 1482.0,1893.4 1482.0,1902.7 1472.0,1902.7 1472.0,1893.4 1444.8,1893.4 1444.8,1884.4"/><path fill-rule="evenodd" fill="#b8363a" d="M1510.4,1835.0 H1510.4 A13.6,16.9 0 0 1 1524.0,1851.9 V1858.9 A13.6,16.9 0 0 1 1510.4,1875.8 H1510.4 A13.6,16.9 0 0 1 1496.8,1858.9 V1851.9 A13.6,16.9 0 0 1 1510.4,1835.0 Z M1510.6,1842.9 H1510.6 A5.8,10.4 0 0 1 1516.4,1853.3 V1857.4 A5.8,10.4 0 0 1 1510.6,1867.8 H1510.6 A5.8,10.4 0 0 1 1504.8,1857.4 V1853.3 A5.8,10.4 0 0 1 1510.6,1842.9 Z M1547.6,1861.9 H1547.6 A14.2,17.7 0 0 1 1561.8,1879.6 V1885.0 A14.2,17.7 0 0 1 1547.6,1902.7 H1547.6 A14.2,17.7 0 0 1 1533.3,1885.0 V1879.6 A14.2,17.7 0 0 1 1547.6,1861.9 Z M1547.7,1869.6 H1547.7 A5.2,9.3 0 0 1 1552.9,1878.9 V1885.9 A5.2,9.3 0 0 1 1547.7,1895.2 H1547.7 A5.2,9.3 0 0 1 1542.6,1885.9 V1878.9 A5.2,9.3 0 0 1 1547.7,1869.6 Z M1538.7,1835.0 L1548.7,1835.0 L1520.2,1902.7 L1510.2,1902.7 Z"/><path fill="#352e8a" d="M986.2,1945.5 H1009.1 V2071.8 H986.2 V1971.9 L967.7,1983.5 V1959.4 Z"/><path fill-rule="evenodd" fill="#352e8a" d="M1084.8,1994.6 H1084.8 A37.5,38.6 0 0 1 1122.2,2033.2 V2033.2 A37.5,38.6 0 0 1 1084.8,2071.8 H1084.8 A37.5,38.6 0 0 1 1047.3,2033.2 V2033.2 A37.5,38.6 0 0 1 1084.8,1994.6 Z M1084.8,2016.9 H1084.7 A14.6,16.8 0 0 1 1099.4,2033.7 V2033.7 A14.6,16.8 0 0 1 1084.7,2050.5 H1084.8 A14.6,16.8 0 0 1 1070.1,2033.7 V2033.7 A14.6,16.8 0 0 1 1084.8,2016.9 Z "/><polygon fill="#352e8a" points="1083.9,1945.5 1108.9,1945.5 1086.2,1999.8 1049.5,2023.8"/><rect fill="#352e8a" x="1134.0" y="2047.4" width="23.9" height="24.4"/><path fill-rule="evenodd" fill="#352e8a" d="M1208.2,1945.5 H1208.2 A37.5,38.6 0 0 1 1245.7,1984.1 V1984.1 A37.5,38.6 0 0 1 1208.2,2022.7 H1208.2 A37.5,38.6 0 0 1 1170.7,1984.1 V1984.1 A37.5,38.6 0 0 1 1208.2,1945.5 Z M1208.2,1966.8 H1208.2 A14.6,16.8 0 0 1 1222.8,1983.6 V1983.6 A14.6,16.8 0 0 1 1208.2,2000.4 H1208.2 A14.6,16.8 0 0 1 1193.6,1983.6 V1983.6 A14.6,16.8 0 0 1 1208.2,1966.8 Z "/><polygon fill="#352e8a" points="1209.1,2071.8 1184.0,2071.8 1206.7,2017.5 1243.5,1993.5"/><path fill-rule="evenodd" fill="#352e8a" d="M1285.6,1945.5 H1285.6 A26.8,33.3 0 0 1 1312.5,1978.8 V1991.0 A26.8,33.3 0 0 1 1285.6,2024.3 H1285.6 A26.8,33.3 0 0 1 1258.8,1991.0 V1978.8 A26.8,33.3 0 0 1 1285.6,1945.5 Z M1286.1,1964.4 H1286.1 A6.6,11.9 0 0 1 1292.7,1976.3 V1993.4 A6.6,11.9 0 0 1 1286.1,2005.2 H1286.1 A6.6,11.9 0 0 1 1279.5,1993.4 V1976.3 A6.6,11.9 0 0 1 1286.1,1964.4 Z M1354.6,1993.6 H1354.6 A27.3,33.8 0 0 1 1381.9,2027.4 V2038.0 A27.3,33.8 0 0 1 1354.6,2071.8 H1354.6 A27.3,33.8 0 0 1 1327.4,2038.0 V2027.4 A27.3,33.8 0 0 1 1354.6,1993.6 Z M1354.5,2013.4 H1354.5 A6.5,11.6 0 0 1 1361.0,2025.1 V2042.5 A6.5,11.6 0 0 1 1354.5,2054.1 H1354.5 A6.5,11.6 0 0 1 1348.0,2042.5 V2025.1 A6.5,11.6 0 0 1 1354.5,2013.4 Z M1334.8,1945.5 L1360.1,1945.5 L1307.1,2071.8 L1281.7,2071.8 Z"/><rect fill="#b8363a" x="2137.7" y="1873.5" width="30.4" height="10.0"/><path fill="#b8363a" d="M2201.9,1835.0 H2212.1 V1902.7 H2201.9 V1845.5 L2191.6,1852.5 V1843.2 Z"/><rect fill="#b8363a" x="2233.2" y="1891.7" width="10.8" height="11.0"/><polygon fill="#b8363a" points="2274.0,1835.0 2285.1,1835.0 2263.2,1882.6 2278.1,1882.6 2278.1,1864.0 2288.1,1864.0 2288.1,1882.6 2294.0,1882.6 2294.0,1893.4 2288.1,1893.4 2288.1,1902.7 2278.1,1902.7 2278.1,1893.4 2250.9,1893.4 2250.9,1884.4"/><path fill-rule="evenodd" fill="#b8363a" d="M2316.6,1835.0 H2316.6 A13.6,16.9 0 0 1 2330.2,1851.9 V1858.9 A13.6,16.9 0 0 1 2316.6,1875.8 H2316.6 A13.6,16.9 0 0 1 2303.0,1858.9 V1851.9 A13.6,16.9 0 0 1 2316.6,1835.0 Z M2316.8,1842.9 H2316.8 A5.8,10.4 0 0 1 2322.6,1853.3 V1857.4 A5.8,10.4 0 0 1 2316.8,1867.8 H2316.8 A5.8,10.4 0 0 1 2311.0,1857.4 V1853.3 A5.8,10.4 0 0 1 2316.8,1842.9 Z M2353.8,1861.9 H2353.8 A14.2,17.7 0 0 1 2368.0,1879.6 V1885.0 A14.2,17.7 0 0 1 2353.8,1902.7 H2353.8 A14.2,17.7 0 0 1 2339.5,1885.0 V1879.6 A14.2,17.7 0 0 1 2353.8,1861.9 Z M2353.9,1869.6 H2353.9 A5.2,9.3 0 0 1 2359.1,1878.9 V1885.9 A5.2,9.3 0 0 1 2353.9,1895.2 H2353.9 A5.2,9.3 0 0 1 2348.8,1885.9 V1878.9 A5.2,9.3 0 0 1 2353.9,1869.6 Z M2344.9,1835.0 L2354.9,1835.0 L2326.4,1902.7 L2316.4,1902.7 Z"/><rect fill="#352e8a" x="1935.7" y="2048.1" width="23.2" height="23.7"/><path fill-rule="evenodd" fill="#352e8a" d="M2087.7,1945.5 H2087.7 A26.6,33.0 0 0 1 2114.3,1978.5 V1991.3 A26.6,33.0 0 0 1 2087.7,2024.3 H2087.7 A26.6,33.0 0 0 1 2061.1,1991.3 V1978.5 A26.6,33.0 0 0 1 2087.7,1945.5 Z M2088.1,1964.4 H2088.1 A6.5,11.8 0 0 1 2094.7,1976.2 V1993.5 A6.5,11.8 0 0 1 2088.1,2005.2 H2088.1 A6.5,11.8 0 0 1 2081.6,1993.5 V1976.2 A6.5,11.8 0 0 1 2088.1,1964.4 Z M2156.2,1993.6 H2156.2 A27.0,33.5 0 0 1 2183.2,2027.2 V2038.3 A27.0,33.5 0 0 1 2156.2,2071.8 H2156.2 A27.0,33.5 0 0 1 2129.1,2038.3 V2027.2 A27.0,33.5 0 0 1 2156.2,1993.6 Z M2156.0,2013.4 H2156.0 A6.4,11.5 0 0 1 2162.4,2025.0 V2042.6 A6.4,11.5 0 0 1 2156.0,2054.1 H2156.0 A6.4,11.5 0 0 1 2149.6,2042.6 V2025.0 A6.4,11.5 0 0 1 2156.0,2013.4 Z M2136.4,1945.5 L2161.6,1945.5 L2109.0,2071.8 L2083.8,2071.8 Z"/><rect fill="#b8363a" x="610.0" y="2676.3" width="30.4" height="10.0"/><rect fill="#b8363a" x="704.7" y="2695.1" width="10.1" height="10.3"/><path fill-rule="evenodd" fill="#b8363a" d="M744.0,2638.0 H744.0 A19.2,23.1 0 0 1 763.3,2661.1 V2682.3 A19.2,23.1 0 0 1 744.0,2705.4 H744.0 A19.2,23.1 0 0 1 724.8,2682.3 V2661.1 A19.2,23.1 0 0 1 744.0,2638.0 Z M744.1,2647.8 H744.1 A9.3,14.0 0 0 1 753.5,2661.8 V2682.1 A9.3,14.0 0 0 1 744.1,2696.1 H744.1 A9.3,14.0 0 0 1 734.8,2682.1 V2661.8 A9.3,14.0 0 0 1 744.1,2647.8 Z "/><path fill-rule="evenodd" fill="#b8363a" d="M788.4,2638.0 H788.4 A13.6,16.8 0 0 1 801.9,2654.8 V2661.8 A13.6,16.8 0 0 1 788.4,2678.6 H788.4 A13.6,16.8 0 0 1 774.8,2661.8 V2654.8 A13.6,16.8 0 0 1 788.4,2638.0 Z M788.5,2645.8 H788.5 A5.8,10.4 0 0 1 794.3,2656.2 V2660.3 A5.8,10.4 0 0 1 788.5,2670.6 H788.5 A5.8,10.4 0 0 1 782.8,2660.3 V2656.2 A5.8,10.4 0 0 1 788.5,2645.8 Z M825.3,2664.8 H825.3 A14.2,17.6 0 0 1 839.5,2682.4 V2687.8 A14.2,17.6 0 0 1 825.3,2705.4 H825.3 A14.2,17.6 0 0 1 811.2,2687.8 V2682.4 A14.2,17.6 0 0 1 825.3,2664.8 Z M825.5,2672.4 H825.5 A5.1,9.3 0 0 1 830.6,2681.7 V2688.7 A5.1,9.3 0 0 1 825.5,2697.9 H825.5 A5.1,9.3 0 0 1 820.3,2688.7 V2681.7 A5.1,9.3 0 0 1 825.5,2672.4 Z M816.5,2638.0 L826.5,2638.0 L798.1,2705.4 L788.1,2705.4 Z"/><path fill="#352e8a" d="M253.5,2746.4 H276.4 V2873.4 H253.5 V2772.9 L235.0,2784.6 V2760.4 Z"/><rect fill="#352e8a" x="401.2" y="2849.2" width="23.7" height="24.2"/><polygon fill="#352e8a" points="477.0,2746.4 501.9,2746.4 460.1,2833.1 482.9,2833.1 482.9,2800.1 505.8,2800.1 505.8,2833.1 517.0,2833.1 517.0,2856.4 505.8,2856.4 505.8,2873.4 482.9,2873.4 482.9,2856.4 432.6,2856.4 432.6,2836.7"/><path fill-rule="evenodd" fill="#352e8a" d="M553.3,2746.4 H553.3 A26.7,33.1 0 0 1 580.1,2779.5 V2792.5 A26.7,33.1 0 0 1 553.3,2825.6 H553.3 A26.7,33.1 0 0 1 526.6,2792.5 V2779.5 A26.7,33.1 0 0 1 553.3,2746.4 Z M553.8,2765.5 H553.8 A6.6,11.8 0 0 1 560.3,2777.3 V2794.7 A6.6,11.8 0 0 1 553.8,2806.5 H553.8 A6.6,11.8 0 0 1 547.2,2794.7 V2777.3 A6.6,11.8 0 0 1 553.8,2765.5 Z M622.0,2794.8 H622.0 A27.2,33.7 0 0 1 649.2,2828.5 V2839.7 A27.2,33.7 0 0 1 622.0,2873.4 H622.0 A27.2,33.7 0 0 1 594.9,2839.7 V2828.5 A27.2,33.7 0 0 1 622.0,2794.8 Z M621.9,2814.7 H621.9 A6.4,11.6 0 0 1 628.4,2826.3 V2844.0 A6.4,11.6 0 0 1 621.9,2855.6 H621.9 A6.4,11.6 0 0 1 615.5,2844.0 V2826.3 A6.4,11.6 0 0 1 621.9,2814.7 Z M602.2,2746.4 L627.5,2746.4 L574.7,2873.4 L549.4,2873.4 Z"/><rect fill="#b8363a" x="1370.0" y="2676.3" width="28.8" height="10.0"/><path fill="#b8363a" d="M1432.9,2638.0 H1443.2 V2705.4 H1432.9 V2648.4 L1422.4,2655.4 V2646.2 Z"/><rect fill="#b8363a" x="1464.0" y="2694.4" width="10.8" height="11.0"/><path fill-rule="evenodd" fill="#b8363a" d="M1504.2,2665.6 H1504.2 A19.4,19.9 0 0 1 1523.6,2685.5 V2685.5 A19.4,19.9 0 0 1 1504.2,2705.4 H1504.2 A19.4,19.9 0 0 1 1484.8,2685.5 V2685.5 A19.4,19.9 0 0 1 1504.2,2665.6 Z M1504.1,2675.3 H1504.1 A9.9,10.5 0 0 1 1514.0,2685.8 V2685.8 A9.9,10.5 0 0 1 1504.1,2696.3 H1504.1 A9.9,10.5 0 0 1 1494.2,2685.8 V2685.8 A9.9,10.5 0 0 1 1504.1,2675.3 Z "/><polygon fill="#b8363a" points="1505.0,2638.0 1515.8,2638.0 1503.0,2668.3 1485.6,2679.8"/><path fill-rule="evenodd" fill="#b8363a" d="M1547.6,2638.0 H1547.6 A13.6,16.8 0 0 1 1561.2,2654.8 V2661.7 A13.6,16.8 0 0 1 1547.6,2678.6 H1547.6 A13.6,16.8 0 0 1 1534.0,2661.7 V2654.8 A13.6,16.8 0 0 1 1547.6,2638.0 Z M1547.7,2645.8 H1547.7 A5.8,10.4 0 0 1 1553.5,2656.2 V2660.2 A5.8,10.4 0 0 1 1547.7,2670.6 H1547.7 A5.8,10.4 0 0 1 1542.0,2660.2 V2656.2 A5.8,10.4 0 0 1 1547.7,2645.8 Z M1584.6,2664.8 H1584.6 A14.2,17.6 0 0 1 1598.8,2682.4 V2687.8 A14.2,17.6 0 0 1 1584.6,2705.4 H1584.6 A14.2,17.6 0 0 1 1570.4,2687.8 V2682.4 A14.2,17.6 0 0 1 1584.6,2664.8 Z M1584.8,2672.4 H1584.8 A5.2,9.3 0 0 1 1589.9,2681.7 V2688.6 A5.2,9.3 0 0 1 1584.8,2697.9 H1584.8 A5.2,9.3 0 0 1 1579.6,2688.6 V2681.7 A5.2,9.3 0 0 1 1584.8,2672.4 Z M1575.8,2638.0 L1585.8,2638.0 L1557.3,2705.4 L1547.3,2705.4 Z"/><rect fill="#352e8a" x="1119.8" y="2849.2" width="23.7" height="24.2"/><path fill-rule="evenodd" fill="#352e8a" d="M1194.2,2746.4 H1194.2 A37.0,38.8 0 0 1 1231.3,2785.2 V2785.2 A37.0,38.8 0 0 1 1194.2,2824.0 H1194.2 A37.0,38.8 0 0 1 1157.2,2785.2 V2785.2 A37.0,38.8 0 0 1 1194.2,2746.4 Z M1194.2,2767.9 H1194.2 A14.4,16.9 0 0 1 1208.7,2784.8 V2784.8 A14.4,16.9 0 0 1 1194.2,2801.6 H1194.2 A14.4,16.9 0 0 1 1179.8,2784.8 V2784.8 A14.4,16.9 0 0 1 1194.2,2767.9 Z "/><polygon fill="#352e8a" points="1195.1,2873.4 1170.4,2873.4 1192.8,2818.8 1229.1,2794.7"/><path fill-rule="evenodd" fill="#352e8a" d="M1271.5,2746.4 H1271.5 A26.6,33.0 0 0 1 1298.1,2779.4 V2792.6 A26.6,33.0 0 0 1 1271.5,2825.6 H1271.5 A26.6,33.0 0 0 1 1244.9,2792.6 V2779.4 A26.6,33.0 0 0 1 1271.5,2746.4 Z M1271.9,2765.5 H1271.9 A6.5,11.8 0 0 1 1278.5,2777.2 V2794.7 A6.5,11.8 0 0 1 1271.9,2806.5 H1271.9 A6.5,11.8 0 0 1 1265.4,2794.7 V2777.2 A6.5,11.8 0 0 1 1271.9,2765.5 Z M1340.0,2794.8 H1340.0 A27.0,33.5 0 0 1 1367.0,2828.3 V2839.9 A27.0,33.5 0 0 1 1340.0,2873.4 H1340.0 A27.0,33.5 0 0 1 1312.9,2839.9 V2828.3 A27.0,33.5 0 0 1 1340.0,2794.8 Z M1339.8,2814.7 H1339.8 A6.4,11.5 0 0 1 1346.2,2826.3 V2844.1 A6.4,11.5 0 0 1 1339.8,2855.6 H1339.8 A6.4,11.5 0 0 1 1333.4,2844.1 V2826.3 A6.4,11.5 0 0 1 1339.8,2814.7 Z M1320.2,2746.4 L1345.4,2746.4 L1292.8,2873.4 L1267.6,2873.4 Z"/><rect fill="#b8363a" x="2152.9" y="2676.5" width="30.3" height="10.0"/><path fill="#b8363a" d="M2216.9,2637.9 H2227.2 V2705.8 H2216.9 V2648.4 L2206.5,2655.4 V2646.1 Z"/><path fill-rule="evenodd" fill="#b8363a" d="M2270.4,2665.7 H2270.4 A19.8,20.0 0 0 1 2290.2,2685.8 V2685.8 A19.8,20.0 0 0 1 2270.4,2705.8 H2270.4 A19.8,20.0 0 0 1 2250.7,2685.8 V2685.8 A19.8,20.0 0 0 1 2270.4,2665.7 Z M2270.4,2675.5 H2270.4 A10.1,10.6 0 0 1 2280.4,2686.1 V2686.1 A10.1,10.6 0 0 1 2270.4,2696.6 H2270.4 A10.1,10.6 0 0 1 2260.3,2686.1 V2686.1 A10.1,10.6 0 0 1 2270.4,2675.5 Z "/><polygon fill="#b8363a" points="2271.3,2637.9 2282.3,2637.9 2269.3,2668.5 2251.5,2680.0"/><rect fill="#b8363a" x="2298.9" y="2694.6" width="11.0" height="11.2"/><path fill-rule="evenodd" fill="#b8363a" d="M2338.3,2637.9 H2338.3 A19.3,23.2 0 0 1 2357.6,2661.1 V2682.6 A19.3,23.2 0 0 1 2338.3,2705.8 H2338.3 A19.3,23.2 0 0 1 2319.0,2682.6 V2661.1 A19.3,23.2 0 0 1 2338.3,2637.9 Z M2338.4,2647.8 H2338.4 A9.4,14.0 0 0 1 2347.8,2661.9 V2682.4 A9.4,14.0 0 0 1 2338.4,2696.4 H2338.4 A9.4,14.0 0 0 1 2329.0,2682.4 V2661.9 A9.4,14.0 0 0 1 2338.4,2647.8 Z "/><path fill-rule="evenodd" fill="#b8363a" d="M2382.3,2637.9 H2382.3 A13.7,17.0 0 0 1 2396.0,2654.9 V2661.8 A13.7,17.0 0 0 1 2382.3,2678.8 H2382.3 A13.7,17.0 0 0 1 2368.6,2661.8 V2654.9 A13.7,17.0 0 0 1 2382.3,2637.9 Z M2382.4,2645.8 H2382.4 A5.8,10.5 0 0 1 2388.3,2656.2 V2660.3 A5.8,10.5 0 0 1 2382.4,2670.8 H2382.4 A5.8,10.5 0 0 1 2376.6,2660.3 V2656.2 A5.8,10.5 0 0 1 2382.4,2645.8 Z M2419.6,2664.9 H2419.6 A14.3,17.7 0 0 1 2433.9,2682.7 V2688.1 A14.3,17.7 0 0 1 2419.6,2705.8 H2419.6 A14.3,17.7 0 0 1 2405.3,2688.1 V2682.7 A14.3,17.7 0 0 1 2419.6,2664.9 Z M2419.8,2672.6 H2419.8 A5.2,9.3 0 0 1 2425.0,2681.9 V2688.9 A5.2,9.3 0 0 1 2419.8,2698.3 H2419.8 A5.2,9.3 0 0 1 2414.6,2688.9 V2681.9 A5.2,9.3 0 0 1 2419.8,2672.6 Z M2410.7,2637.9 L2420.8,2637.9 L2392.1,2705.8 L2382.1,2705.8 Z"/><rect fill="#352e8a" x="1969.8" y="2848.7" width="24.2" height="24.7"/><path fill-rule="evenodd" fill="#352e8a" d="M2121.2,2746.4 H2121.2 A26.9,33.4 0 0 1 2148.1,2779.8 V2792.3 A26.9,33.4 0 0 1 2121.2,2825.6 H2121.2 A26.9,33.4 0 0 1 2094.3,2792.3 V2779.8 A26.9,33.4 0 0 1 2121.2,2746.4 Z M2121.6,2765.5 H2121.6 A6.6,11.9 0 0 1 2128.2,2777.3 V2794.6 A6.6,11.9 0 0 1 2121.6,2806.5 H2121.6 A6.6,11.9 0 0 1 2115.0,2794.6 V2777.3 A6.6,11.9 0 0 1 2121.6,2765.5 Z M2190.4,2794.8 H2190.4 A27.3,33.9 0 0 1 2217.7,2828.7 V2839.5 A27.3,33.9 0 0 1 2190.4,2873.4 H2190.4 A27.3,33.9 0 0 1 2163.0,2839.5 V2828.7 A27.3,33.9 0 0 1 2190.4,2794.8 Z M2190.2,2814.7 H2190.2 A6.5,11.7 0 0 1 2196.7,2826.4 V2844.0 A6.5,11.7 0 0 1 2190.2,2855.6 H2190.2 A6.5,11.7 0 0 1 2183.8,2844.0 V2826.4 A6.5,11.7 0 0 1 2190.2,2814.7 Z M2170.4,2746.4 L2195.9,2746.4 L2142.7,2873.4 L2117.3,2873.4 Z"/></svg>
</body></html>
